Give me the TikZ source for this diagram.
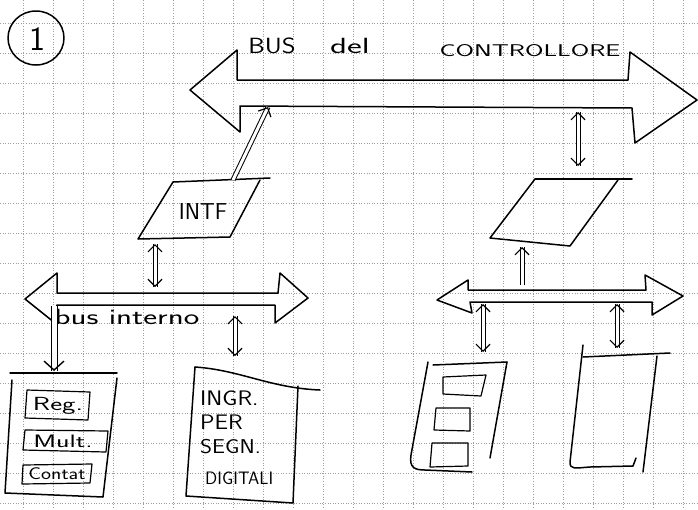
\documentclass[tikz,border=0pt]{standalone}
\usepackage{graphicx}
\usetikzlibrary{arrows.meta}
\newcommand\hcon[3]{\draw[conn] (#1) -- (#2); \draw[barbs, #3] (#1) -- (#2);}
\begin{document}
\begin{tikzpicture}[x=1pt,y=-1pt,
  ink/.style={line width=1.5pt, line join=round, line cap=round},
  thinink/.style={line width=1.2pt, line join=round, line cap=round},
  gridline/.style={black!38, dotted, line width=0.6pt},
  conn/.style={double, double distance=3pt, line width=1pt},
  barbs/.style={draw=white, line width=0.2pt},
  headE/.style={-{Straight Barb[black, length=7pt, width=14pt, line width=1.2pt]}},
  headB/.style={{Straight Barb[black, length=7pt, width=14pt, line width=1.2pt]}-{Straight Barb[black, length=7pt, width=14pt, line width=1.2pt]}},
  hand/.style={font=\sffamily, inner sep=0pt}
]
\useasboundingbox (0,0) rectangle (698,509);
\fill[white] (0,0) rectangle (698,509);
% grid paper
\foreach \i in {0,...,22} \draw[gridline] (23.3+30*\i,0) -- (23.3+30*\i,509);
\foreach \i in {0,...,16} \draw[gridline] (0,23.3+30*\i) -- (698,23.3+30*\i);

% circled number
\draw[ink] (36,38) ellipse [x radius=28pt, y radius=27pt];
\node[hand, font=\sffamily\fontsize{34}{34}\selectfont] (num) at (37,39) {1};

% title
\node[hand, font=\sffamily\fontsize{22}{22}\selectfont] (tbus) at (272,46) {\scalebox{1.2}[1]{BUS}};
\node[hand, font=\sffamily\fontsize{22}{22}\selectfont] (tdel) at (350,46) {\scalebox{1.6}[1]{del}};
\node[hand, font=\sffamily\fontsize{17}{17}\selectfont] (tctrl) at (530,51) {\scalebox{1.57}[1]{CONTROLLORE}};

% top bus (controller bus)
\draw[ink] (190,90) -- (237,50) -- (237,80) -- (628,80) -- (630,52) -- (697,100)
  -- (635,143) -- (632,108) -- (240,106) -- (240,132) -- cycle;

% INTF parallelogram
\draw[ink] (173,182) -- (270,178);
\draw[ink] (173,182) -- (138,239) -- (230,237) -- (260,180);
\node[hand, font=\sffamily\fontsize{23}{23}\selectfont] (intf) at (203,212) {INTF};

% right parallelogram
\draw[ink] (535,179) -- (632,179);
\draw[ink] (535,179) -- (490,238) -- (570,246) -- (618,180);

% bus interno
\draw[ink] (25,299) -- (57,273) -- (57,293) -- (278,293) -- (280,273) -- (308,298)
  -- (275,323) -- (275,305) -- (57,305) -- (55,323) -- cycle;
\node[hand, font=\sffamily\fontsize{22}{22}\selectfont] (tbi) at (127,317) {\scalebox{1.5}[1]{bus interno}};

% right bus
\draw[ink] (437,300) -- (468,280) -- (468,290) -- (646,290) -- (645,275) -- (683,296)
  -- (652,315) -- (652,302) -- (470,302) -- (472,313) -- cycle;

% left box with registers
\draw[ink] (10,373) -- (117,373);
\draw[ink] (12,380) -- (5,493) -- (103,497) -- (117,378);
\draw[thinink] (27,390) -- (90,392) -- (88,420) -- (25,418) -- cycle;
\draw[thinink] (25,430) -- (108,431) -- (106,452) -- (23,450) -- cycle;
\draw[thinink] (23,465) -- (92,464) -- (90,483) -- (22,484) -- cycle;
\node[hand, font=\sffamily\fontsize{19}{19}\selectfont] (treg) at (58,406) {\scalebox{1.5}[1]{Reg.}};
\node[hand, font=\sffamily\fontsize{18}{18}\selectfont] (tmult) at (63,441) {\scalebox{1.55}[1]{Mult.}};
\node[hand, font=\sffamily\fontsize{17}{17}\selectfont] (tcont) at (57,474) {\scalebox{1.25}[1]{Contat}};

% INGR box
\draw[ink] (195,367) .. controls (240,370) and (270,388) .. (320,390);
\draw[ink] (298,386) -- (293,503) -- (186,496) -- (195,367);
\node[hand, anchor=west, font=\sffamily\fontsize{21}{21}\selectfont] (t1) at (200,398) {\scalebox{1.15}[1]{INGR.}};
\node[hand, anchor=west, font=\sffamily\fontsize{21}{21}\selectfont] (t2) at (200,422) {\scalebox{1.15}[1]{PER}};
\node[hand, anchor=west, font=\sffamily\fontsize{20}{20}\selectfont] (t3) at (200,447) {\scalebox{1.15}[1]{SEGN.}};
\node[hand, anchor=west, font=\sffamily\fontsize{18}{18}\selectfont] (t4) at (205,478) {DIGITALI};

% right box 1
\draw[ink] (433,365) -- (507,362);
\draw[ink] (428,362) -- (411,455) .. controls (409,468) and (415,470) .. (425,470) -- (472,472);
\draw[ink] (507,362) -- (490,458);
\draw[thinink] (443,377) -- (486,375) -- (481,396) -- (443,394) -- cycle;
\draw[thinink] (436,408) -- (470,408) -- (470,431) -- (434,430) -- cycle;
\draw[thinink] (432,443) -- (468,443) -- (468,466) -- (430,467) -- cycle;

% right box 2
\draw[ink] (583,357) -- (670,353);
\draw[ink] (583,345) -- (570,462) .. controls (570,470) and (575,468) .. (590,467) -- (633,466) -- (636,458);
\draw[ink] (657,356) -- (643,472);

% connectors
\coordinate (intfTop) at (233,180);
\coordinate (tbA) at (268,107);
\coordinate (tbB) at (578,112);
\coordinate (ppTop) at (578,166);
\coordinate (intfBot) at (155,244);
\coordinate (biA) at (155,287);
\coordinate (rbA) at (522,285);
\coordinate (ppBot) at (522,247);
\coordinate (biB) at (54,306);
\coordinate (lboxTop) at (54,371);
\coordinate (biC) at (235,316);
\coordinate (ingrTop) at (235,356);
\coordinate (rbB) at (483,304);
\coordinate (rbox1Top) at (483,352);
\coordinate (rbC) at (617,304);
\coordinate (rbox2Top) at (617,348);

\hcon{intfTop}{tbA}{headE}
\hcon{tbB}{ppTop}{headB}
\hcon{intfBot}{biA}{headB}
\hcon{rbA}{ppBot}{headE}
\draw[conn, double distance=5pt] (biB) -- (lboxTop);
\draw[barbs, -{Straight Barb[black, length=9pt, width=20pt, line width=1.4pt]}] (biB) -- (lboxTop);
\hcon{biC}{ingrTop}{headB}
\hcon{rbB}{rbox1Top}{headB}
\hcon{rbC}{rbox2Top}{headB}
\end{tikzpicture}
\end{document}
